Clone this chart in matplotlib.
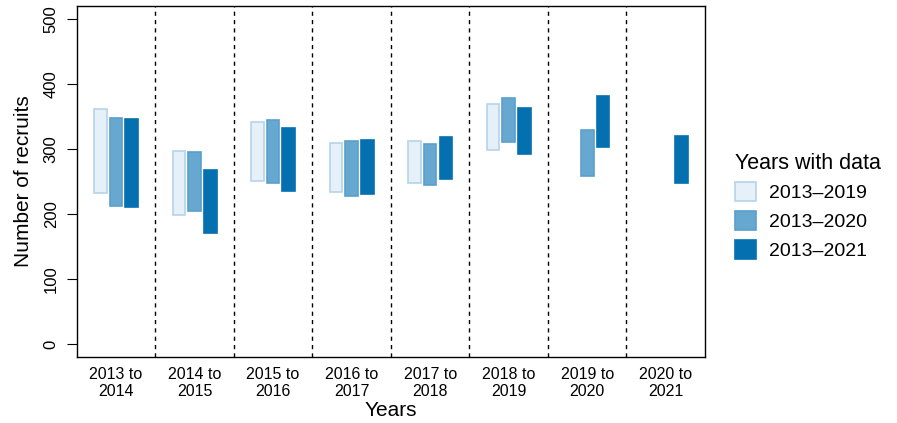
import numpy as np
import matplotlib.pyplot as plt
from matplotlib.patches import Patch

plt.rcParams['font.family'] = ['Liberation Sans', 'DejaVu Sans']

periodos = ["2013 to\n2014", "2014 to\n2015", "2015 to\n2016", "2016 to\n2017",
            "2017 to\n2018", "2018 to\n2019", "2019 to\n2020", "2020 to\n2021"]
series = ["2013\u20132019", "2013\u20132020", "2013\u20132021"]

# limites inferior/superior de cada barra (nan = sem dado)
inf_2019 = [233, 198, 250, 234, 248, 298, np.nan, np.nan]
sup_2019 = [362, 297, 341, 309, 313, 369, np.nan, np.nan]
inf_2020 = [212, 204, 248, 228, 244, 310, 259, np.nan]
sup_2020 = [348, 296, 344, 312, 308, 379, 329, np.nan]
inf_2021 = [211, 171, 236, 231, 254, 293, 303, 247]
sup_2021 = [346, 267, 333, 314, 318, 363, 382, 320]

cores = ["#e6f0f8", "#66a8d0", "#0570b0"]
bordas = ["#b6d4e9", "#5a9fcb", "#0570b0"]

fig = plt.figure(figsize=(8.97, 4.23), dpi=100)
ax = fig.add_axes([0.0855, 0.156, 0.7005, 0.830])

x = np.arange(len(periodos)) + 0.5
largura = 0.16
deslocs = [-0.2, 0.0, 0.2]
dados = [(inf_2019, sup_2019), (inf_2020, sup_2020), (inf_2021, sup_2021)]
for k, (inf, sup) in enumerate(dados):
    inf = np.array(inf, dtype=float)
    sup = np.array(sup, dtype=float)
    ok = ~np.isnan(inf)
    ax.bar(x[ok] + deslocs[k], sup[ok] - inf[ok], bottom=inf[ok], width=largura,
           color=cores[k], edgecolor=bordas[k], linewidth=1.2, zorder=2)

for v in range(1, len(periodos)):
    ax.axvline(v, color="black", linestyle=(0, (3, 3)), linewidth=1, zorder=1)

ax.set_xlim(0, len(periodos))
ax.set_ylim(-20, 520)
ax.set_yticks([0, 100, 200, 300, 400, 500])
ax.set_yticklabels(["0", "100", "200", "300", "400", "500"], rotation=90, va="center")
ax.tick_params(axis="y", length=7, labelsize=12, pad=6)
ax.set_xticks(x)
ax.set_xticklabels(periodos, fontsize=11.5, linespacing=1.15)
ax.tick_params(axis="x", length=0, pad=7)
for s in ax.spines.values():
    s.set_linewidth(1)
ax.set_xlabel("Years", fontsize=15, labelpad=2)
ax.set_ylabel("Number of recruits", fontsize=15, labelpad=8)

handles = [Patch(facecolor=cores[k], edgecolor=bordas[k], linewidth=1.2) for k in range(3)]
leg = fig.legend(handles, series, loc="upper left", bbox_to_anchor=(0.809, 0.662),
                 frameon=False, fontsize=14, title="Years with data", title_fontsize=15.5,
                 handlelength=1.05, handleheight=1.1, handletextpad=0.7, labelspacing=0.45,
                 borderpad=0, alignment="left")

fig.savefig("out.png", dpi=100)
